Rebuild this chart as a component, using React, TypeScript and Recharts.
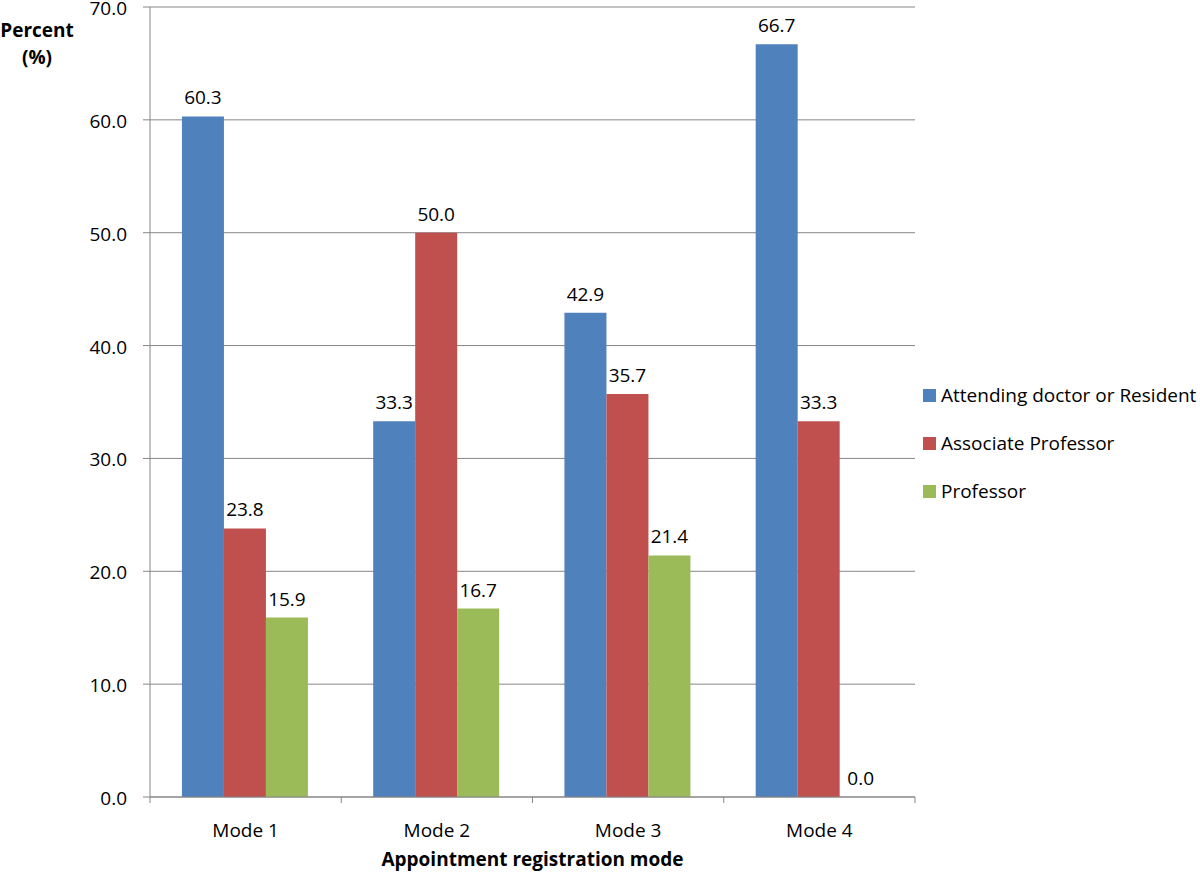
import React from "react";
import { BarChart, Bar, XAxis, YAxis, CartesianGrid, Legend, LabelList, Label } from "recharts";

const categories = ["Mode 1", "Mode 2", "Mode 3", "Mode 4"];
const attending = [60.3, 33.3, 42.9, 66.7];
const associate = [23.8, 50.0, 35.7, 33.3];
const professor = [15.9, 16.7, 21.4, 0.0];
const yTicks = [0, 10, 20, 30, 40, 50, 60, 70];

const seriesNames = ["Attending doctor or Resident", "Associate Professor", "Professor"];
const seriesColors = ["#4F81BD", "#C0504D", "#9BBB59"];

const data = categories.map((c, i) => ({
  name: c,
  a: attending[i],
  b: associate[i],
  c: professor[i],
}));

const FONT = "'Open Sans', sans-serif";
const FS = 19;
const W = 1200;
const H = 872;
const M = { top: 7, right: 285, bottom: 0, left: 0 };
const YW = 150;
const PLOT_W = W - M.left - M.right - YW;
const BAND = PLOT_W / categories.length;
const AXIS = "#868686";

const XTick = (props: any) => {
  const { x, y, payload, index } = props;
  const last = index === categories.length - 1;
  return (
    <g>
      <line x1={x - BAND / 2} x2={x - BAND / 2} y1={y} y2={y + 6} stroke={AXIS} />
      {last && <line x1={x + BAND / 2} x2={x + BAND / 2} y1={y} y2={y + 6} stroke={AXIS} />}
      <text x={x} y={y + 40} textAnchor="middle" fontFamily={FONT} fontSize={FS} fill="#000">
        {payload.value}
      </text>
    </g>
  );
};

const YTick = (props: any) => {
  const { y, payload } = props;
  return (
    <text x={127} y={y + 8} textAnchor="end" fontFamily={FONT} fontSize={FS} fill="#000">
      {Number(payload.value).toFixed(1)}
    </text>
  );
};

const YLabel = (props: any) => {
  const vb = props.viewBox || { x: 0, y: 0 };
  return (
    <g>
      <text x={vb.x + 37} y={vb.y + 30} textAnchor="middle" fontFamily={FONT} fontWeight="bold" fontSize={FS} fill="#000">
        Percent
      </text>
      <text x={vb.x + 37} y={vb.y + 57} textAnchor="middle" fontFamily={FONT} fontWeight="bold" fontSize={FS} fill="#000">
        (%)
      </text>
    </g>
  );
};

const LegendContent = () => (
  <div style={{ fontFamily: FONT, fontSize: FS, color: "#000" }}>
    {seriesNames.map((n, i) => (
      <div key={n} style={{ display: "flex", alignItems: "center", height: 48 }}>
        <span style={{ display: "inline-block", width: 13, height: 13, background: seriesColors[i], marginRight: 5 }} />
        <span>{n}</span>
      </div>
    ))}
  </div>
);

const fmt = (v: any) => Number(v).toFixed(1);
const minSize = (v: any) => (Number(v) === 0 ? 0.01 : 0);

export default function App() {
  return (
    <div style={{ position: "absolute", left: 0, top: 0, background: "#fff" }}>
      <BarChart width={W} height={H} data={data} margin={M} barCategoryGap="16.7%" barGap={0}>
        <CartesianGrid vertical={false} stroke={AXIS} strokeWidth={1} />
        <XAxis
          dataKey="name"
          stroke={AXIS}
          tickLine={false}
          tickSize={0}
          tickMargin={0}
          tick={<XTick />}
          height={75}
          interval={0}
        >
          <Label
            value="Appointment registration mode"
            position="insideBottom"
            offset={6}
            style={{ fontFamily: FONT, fontWeight: "bold", fontSize: FS, fill: "#000" }}
          />
        </XAxis>
        <YAxis
          width={YW}
          domain={[0, 70]}
          ticks={yTicks}
          interval={0}
          stroke={AXIS}
          tickSize={7}
          tickMargin={16}
          tick={<YTick />}
          label={<YLabel />}
        />
        <Legend
          layout="vertical"
          align="center"
          verticalAlign="middle"
          content={<LegendContent />}
          wrapperStyle={{ left: 923, top: 371, width: 277 }}
        />
        {["a", "b", "c"].map((k, i) => (
          <Bar
            key={k}
            dataKey={k}
            name={seriesNames[i]}
            fill={seriesColors[i]}
            minPointSize={minSize}
            isAnimationActive={false}
          >
            <LabelList
              dataKey={k}
              position="top"
              offset={12}
              formatter={fmt}
              style={{ fontFamily: FONT, fontSize: FS, fill: "#000" }}
            />
          </Bar>
        ))}
      </BarChart>
    </div>
  );
}
